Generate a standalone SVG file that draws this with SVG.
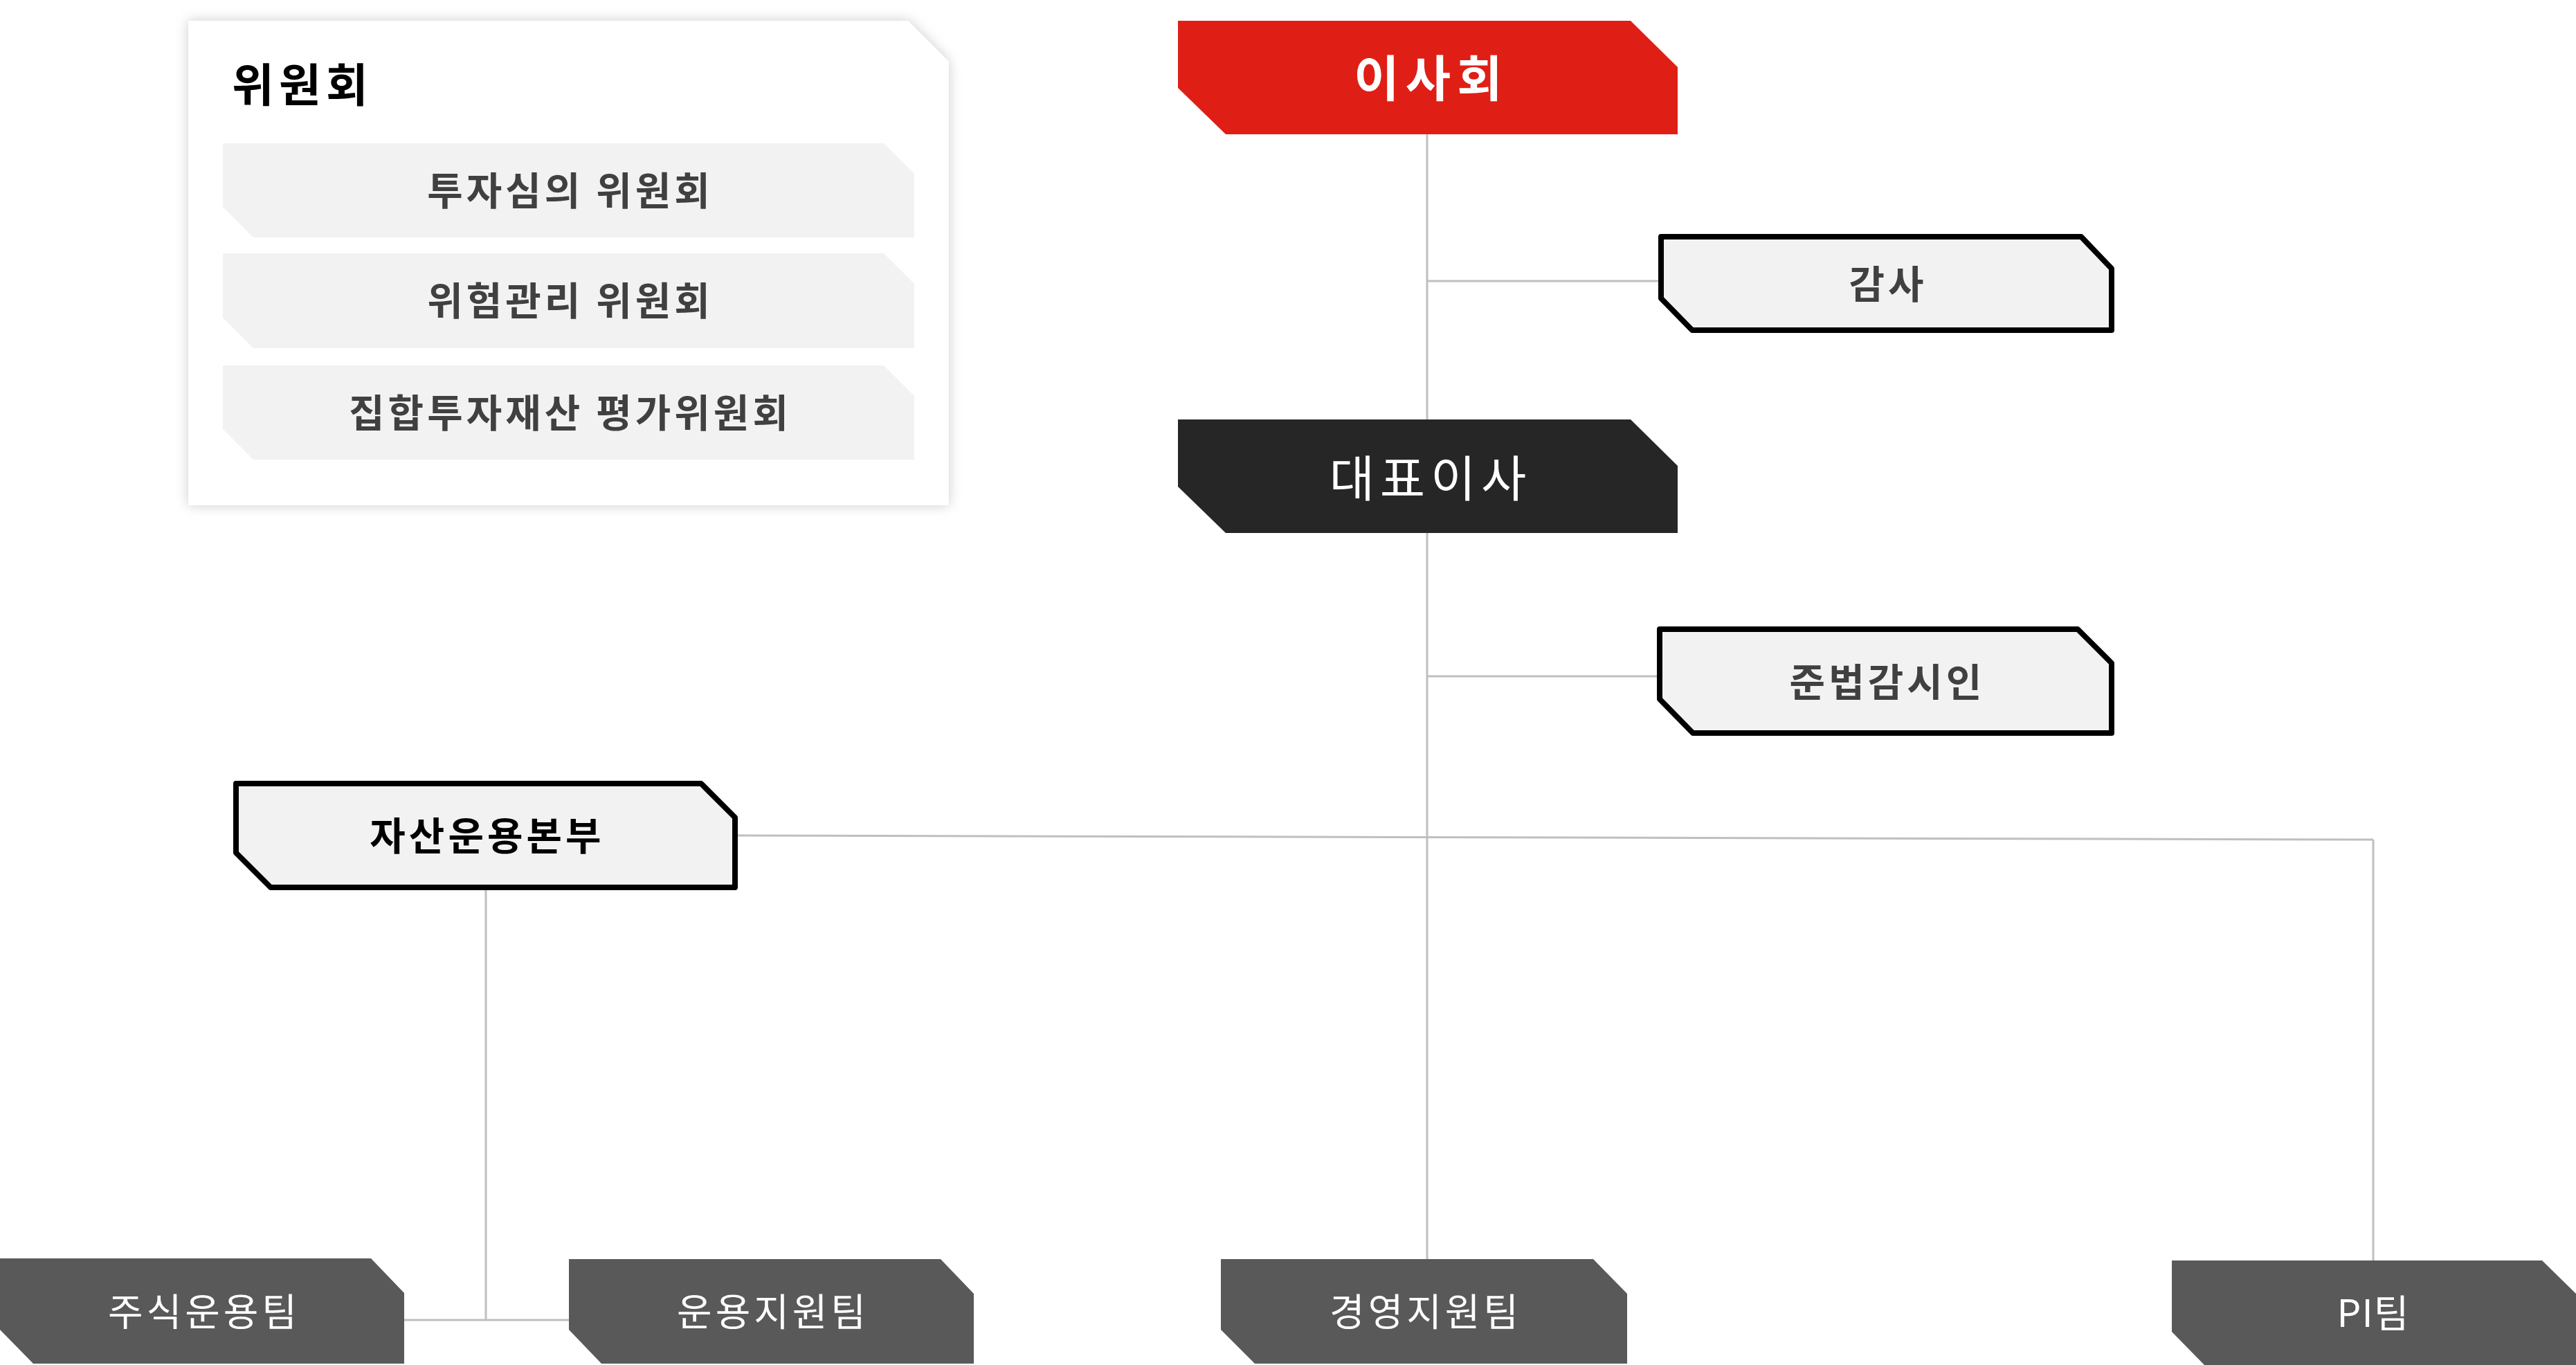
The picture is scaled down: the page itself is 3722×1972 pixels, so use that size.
<svg xmlns="http://www.w3.org/2000/svg" width="3722" height="1972" viewBox="0 0 3722 1972">
  <defs>
    <filter id="shadow" x="-5%" y="-8%" width="110%" height="116%">
      <feGaussianBlur in="SourceAlpha" stdDeviation="9" result="b"/>
      <feFlood flood-color="#000" flood-opacity="0.2"/>
      <feComposite in2="b" operator="in" result="s"/>
      <feMerge><feMergeNode in="s"/><feMergeNode in="SourceGraphic"/></feMerge>
    </filter>
  </defs>
  <style>
    text { font-family: "Noto Sans CJK KR", "Noto Sans", "Liberation Sans", sans-serif; dominant-baseline: central; text-anchor: middle; letter-spacing: 0.09em; }
    .conn { stroke: #bfbfbf; stroke-width: 3; fill: none; }
    .outline { fill: #f2f2f2; stroke: #000; stroke-width: 8; stroke-linejoin: round; }
    .bar { fill: #f2f2f2; }
    .team { fill: #595959; }
    .teamtxt { fill: #ffffff; font-size: 55px; font-weight: 400; }
    .bartxt { fill: #404040; font-size: 56px; font-weight: 700; }
    .boxtxt { fill: #404040; font-size: 56px; font-weight: 700; }
  </style>
  <rect width="3722" height="1972" fill="#ffffff"/>

  <g id="connectors">
    <line class="conn" x1="2062" y1="194" x2="2062" y2="1820"/>
    <line class="conn" x1="2062" y1="406" x2="2398" y2="406"/>
    <line class="conn" x1="2062" y1="977" x2="2396" y2="977"/>
    <line class="conn" x1="1066" y1="1207" x2="3429" y2="1213"/>
    <line class="conn" x1="3429" y1="1213" x2="3429" y2="1822"/>
    <line class="conn" x1="702" y1="1286" x2="702" y2="1907"/>
    <line class="conn" x1="584" y1="1907" x2="823" y2="1907"/>
  </g>

  <g id="committee">
    <polygon points="272,30 1312,30 1371,89 1371,730 272,730" fill="#ffffff" filter="url(#shadow)"/>
    <text x="335" y="118" style="text-anchor:start;font-size:66px;font-weight:700;fill:#000;letter-spacing:0.11em">위원회</text>
    <g id="committee-invest">
      <polygon class="bar" points="322,207 1277,207 1321,251 1321,343 366,343 322,299"/>
      <text class="bartxt" x="824" y="271">투자심의 위원회</text>
    </g>
    <g id="committee-risk">
      <polygon class="bar" points="322,366 1277,366 1321,410 1321,503 366,503 322,459"/>
      <text class="bartxt" x="824" y="430">위험관리 위원회</text>
    </g>
    <g id="committee-valuation">
      <polygon class="bar" points="322,528 1277,528 1321,572 1321,664 366,664 322,620"/>
      <text class="bartxt" x="824" y="592">집합투자재산 평가위원회</text>
    </g>
  </g>

  <g id="board">
    <polygon points="1702,30 2356,30 2424,97 2424,194 1771,194 1702,127" fill="#df1f16"/>
    <text x="2068" y="108" style="fill:#fff;font-size:71px;font-weight:700;letter-spacing:0.13em">이사회</text>
  </g>

  <g id="audit">
    <polygon class="outline" points="2400,342 3007,342 3051,388 3051,477 2445,477 2400,431"/>
    <text class="boxtxt" x="2728" y="406">감사</text>
  </g>

  <g id="ceo">
    <polygon points="1702,606 2356,606 2424,673 2424,770 1771,770 1702,703" fill="#262626"/>
    <text x="2067" y="686" style="fill:#fff;font-size:71px;font-weight:400;letter-spacing:0.11em">대표이사</text>
  </g>

  <g id="compliance">
    <polygon class="outline" points="2398,909 3002,909 3051,958 3051,1059 2446,1059 2398,1010"/>
    <text class="boxtxt" x="2727" y="981">준법감시인</text>
  </g>

  <g id="asset-management">
    <polygon class="outline" points="341,1132 1013,1132 1062,1181 1062,1282 391,1282 341,1232"/>
    <text x="704" y="1203" style="fill:#000;font-size:56px;font-weight:700">자산운용본부</text>
  </g>

  <g id="team-equity">
    <polygon class="team" points="0,1818 536,1818 584,1868 584,1970 48,1970 0,1921"/>
    <text class="teamtxt" x="295" y="1891">주식운용팀</text>
  </g>

  <g id="team-ops-support">
    <polygon class="team" points="822,1819 1359,1819 1407,1869 1407,1970 869,1970 822,1921"/>
    <text class="teamtxt" x="1117" y="1891">운용지원팀</text>
  </g>

  <g id="team-mgmt-support">
    <polygon class="team" points="1764,1819 2302,1819 2351,1869 2351,1970 1813,1970 1764,1921"/>
    <text class="teamtxt" x="2060" y="1891">경영지원팀</text>
  </g>

  <g id="team-pi">
    <polygon class="team" points="3138,1821 3673,1821 3724,1871 3724,1972 3185,1972 3138,1924"/>
    <text class="teamtxt" x="3429" y="1893" style="letter-spacing:0.02em">PI팀</text>
  </g>
</svg>
